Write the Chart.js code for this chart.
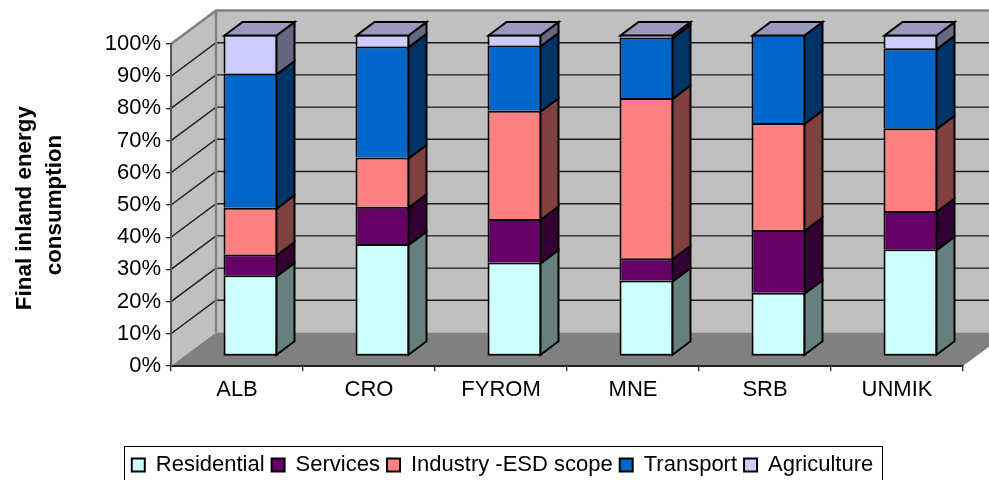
<!DOCTYPE html>
<html>
<head>
<meta charset="utf-8">
<title>Final inland energy consumption</title>
<script src="https://cdn.jsdelivr.net/npm/chart.js@4/dist/chart.umd.min.js"></script>
<style>
    html, body { margin: 0; padding: 0; background: #fff; }
    canvas { display: block; }
</style>
</head>
<body>
<canvas id="energy-chart" width="989" height="480"></canvas>
<script>
const categories = ['ALB', 'CRO', 'FYROM', 'MNE', 'SRB', 'UNMIK'];

const residential = [25.2, 34.9, 29.2, 23.6, 19.8, 33.3];
const services = [6.5, 11.6, 13.5, 6.9, 19.5, 11.9];
const industry = [14.5, 15.3, 33.6, 49.8, 33.2, 25.7];
const transport = [41.7, 34.5, 20.3, 18.8, 27.5, 24.8];
const agriculture = [12.1, 3.7, 3.4, 0.9, 0, 4.3];

const FONT = '"Liberation Sans", Arial, sans-serif';
const TEXT_SIZE = 22;

// Depth of the box: wall offset from the axis plane, bar offset, bar thickness
const WALL = { dx: 45, dy: -33.5 };
const BAR_SHIFT = { dx: 13.5, dy: -9.5 };
const BAR_DEPTH = { dx: 18, dy: -13.5 };
const LEGEND_SHIFT = 21;

function makeSeries(label, data, color, side, top, skipped) {
    return {
        label, data, backgroundColor: color, sideColor: side, topColor: top,
        borderColor: '#000', borderWidth: 2, borderSkipped: skipped,
        barPercentage: 0.409, categoryPercentage: 1, clip: false
    };
}

function fillPoly(ctx, points, fill, stroke, lineWidth) {
    ctx.beginPath();
    points.forEach(([x, y], i) => (i ? ctx.lineTo(x, y) : ctx.moveTo(x, y)));
    ctx.closePath();
    if (fill) { ctx.fillStyle = fill; ctx.fill(); }
    if (stroke) { ctx.strokeStyle = stroke; ctx.lineWidth = lineWidth; ctx.stroke(); }
}

// Side wall, back wall, floor and their gridlines, then the 3D faces of the bars
const boxPlugin = {
    id: 'box3d',
    afterLayout(chart) {
        chart.legend.left += LEGEND_SHIFT;
        chart.legend.right += LEGEND_SHIFT;
    },
    beforeDraw(chart) {
        const { ctx, chartArea: area, scales: { y } } = chart;
        const bx = area.left + WALL.dx;
        const farRight = area.right + WALL.dx;
        const backTop = area.top + WALL.dy;
        const backBottom = area.bottom + WALL.dy;
        ctx.save();
        fillPoly(ctx, [[area.left, area.top], [bx, backTop], [bx, backBottom], [area.left, area.bottom]], '#c0c0c0');
        fillPoly(ctx, [[bx, backTop], [farRight, backTop], [farRight, backBottom], [bx, backBottom]], '#c0c0c0');
        fillPoly(ctx, [[area.left, area.bottom], [bx, backBottom], [farRight, backBottom], [area.right, area.bottom]], '#808080');

        ctx.strokeStyle = '#1a1a1a';
        ctx.lineWidth = 1.4;
        y.ticks.forEach(t => {
            if (t.value === 0 || t.value === 100) return;
            const py = y.getPixelForValue(t.value);
            ctx.beginPath();
            ctx.moveTo(area.left, py);
            ctx.lineTo(bx, py + WALL.dy);
            ctx.lineTo(farRight, py + WALL.dy);
            ctx.stroke();
        });

        ctx.strokeStyle = '#808080';
        ctx.lineWidth = 2.4;
        ctx.beginPath();
        ctx.moveTo(area.left, area.top);
        ctx.lineTo(bx, backTop);
        ctx.lineTo(farRight, backTop);
        ctx.moveTo(bx, backTop);
        ctx.lineTo(bx, backBottom);
        ctx.stroke();

        // legend frame
        ctx.strokeStyle = '#000';
        ctx.lineWidth = 1;
        ctx.strokeRect(124.5, 446.5, 758, 40);
        ctx.restore();
    },
    beforeDatasetsDraw(chart) {
        chart.ctx.save();
        chart.ctx.translate(BAR_SHIFT.dx, BAR_SHIFT.dy);
    },
    afterDatasetsDraw(chart) {
        const ctx = chart.ctx;
        const sets = chart.data.datasets;
        const dx = BAR_DEPTH.dx, dy = BAR_DEPTH.dy;
        sets.forEach((ds, i) => {
            chart.getDatasetMeta(i).data.forEach(bar => {
                const { x, y, base, width } = bar.getProps(['x', 'y', 'base', 'width'], true);
                // corners follow the centre of the bar's 2px outline
                const r = x + width / 2 - 1;
                const top = y + 1;
                const bottom = i ? base + 1 : base - 1;
                if (bottom - top > 0.5) {
                    fillPoly(ctx, [[r, top], [r + dx, top + dy], [r + dx, bottom + dy], [r, bottom]], ds.sideColor, '#000', 2);
                }
                if (i === sets.length - 1) {
                    const l = x - width / 2 + 1;
                    fillPoly(ctx, [[l, top], [l + dx, top + dy], [r + dx, top + dy], [r, top]], ds.topColor, '#000', 2);
                }
            });
        });
        ctx.restore();
    }
};

new Chart(document.getElementById('energy-chart').getContext('2d'), {
    type: 'bar',
    data: {
        labels: categories,
        datasets: [
            makeSeries('Residential', residential, '#ccffff', '#668080', '#99bfbf', false),
            makeSeries('Services', services, '#660066', '#330033', '#4d004d', 'bottom'),
            makeSeries('Industry -ESD scope', industry, '#ff8080', '#804040', '#bf6060', 'bottom'),
            makeSeries('Transport', transport, '#0066cc', '#003366', '#004d99', 'bottom'),
            makeSeries('Agriculture', agriculture, '#ccccff', '#666680', '#9999bf', 'bottom')
        ]
    },
    options: {
        responsive: false,
        animation: false,
        layout: { padding: { top: 44, right: 26, left: 0, bottom: -6 } },
        scales: {
            x: {
                stacked: true,
                afterFit(s) { s.height = 81; s.paddingLeft = 0; s.paddingRight = 0; },
                grid: { drawOnChartArea: false, drawTicks: true, tickLength: 5, color: '#333', lineWidth: 1.4 },
                border: { color: '#222', width: 2 },
                ticks: { color: '#000', font: { family: FONT, size: TEXT_SIZE }, padding: 6, maxRotation: 0 }
            },
            y: {
                stacked: true,
                min: 0,
                max: 100,
                afterFit(s) { s.width = 171; s.paddingTop = 0; s.paddingBottom = 0; },
                grid: { drawOnChartArea: false, drawTicks: true, tickLength: 5, color: '#333', lineWidth: 1.4 },
                border: { color: '#555', width: 2 },
                title: {
                    display: true,
                    text: ['Final inland energy ', 'consumption'],
                    color: '#000',
                    font: { family: FONT, size: 22.4, weight: 'bold', lineHeight: 1.34 },
                    padding: { top: 10, bottom: 0 }
                },
                ticks: {
                    stepSize: 10,
                    color: '#000',
                    padding: 5,
                    font: { family: FONT, size: TEXT_SIZE },
                    callback: v => v + '%'
                }
            }
        },
        plugins: {
            title: { display: false },
            tooltip: { enabled: false },
            legend: {
                display: true,
                position: 'bottom',
                labels: {
                    color: '#000',
                    boxWidth: 13,
                    boxHeight: 13,
                    padding: 7,
                    font: { family: FONT, size: TEXT_SIZE }
                }
            }
        }
    },
    plugins: [boxPlugin]
});
</script>
</body>
</html>
